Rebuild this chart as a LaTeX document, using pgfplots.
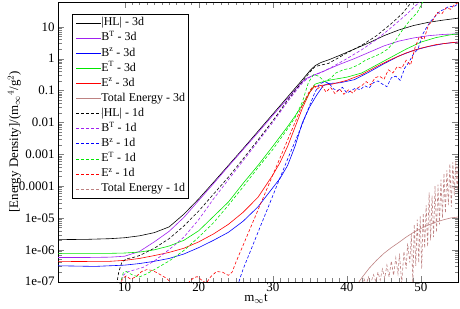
\documentclass[border=0pt]{standalone}
\usepackage{fontspec}
\setmainfont{Liberation Serif}
\usepackage{pgfplots}
\pgfplotsset{compat=1.18}
\definecolor{cPurple}{RGB}{160,32,240}
\definecolor{cGreen}{RGB}{0,230,0}
\definecolor{cBrown}{RGB}{190,130,130}
\begin{document}
\begin{tikzpicture}
\begin{axis}[
  at={(0,0)}, anchor=south west,
  scale only axis, width=400bp, height=279.7bp,
  xmin=1, xmax=55, ymin=1e-7, ymax=60, ymode=log,
  xtick={10,20,30,40,50}, minor x tick num=9,
  ytick={1e-7,1e-6,1e-5,1e-4,1e-3,1e-2,0.1,1,10},
  yticklabels={1e-07,1e-06,1e-05,0.0001,0.001,0.01,0.1,1,10},
  tick label style={font=\fontsize{13}{13}\selectfont},
  xticklabel style={inner sep=1pt},
  /pgf/number format/assume math mode=true,
  xlabel={m$_\infty$t},
  ylabel={[Energy Density]/(m$_\infty{}^4$/g$^2$)},
  label style={font=\fontsize{13}{13}\selectfont},
  xlabel style={at={(axis description cs:0.495,-0.072)}, anchor=base, inner sep=0pt},
  ylabel style={at={(axis description cs:-0.109,0.5)}, anchor=center},
  major tick length=6bp, minor tick length=3.5bp,
  every axis plot/.append style={line width=0.6pt},
  legend cell align=left,
  legend image code/.code={\draw[#1] (0bp,0bp) -- (25bp,0bp);},
  legend style={at={(rel axis cs:0.035,0.958)}, anchor=north west, draw=black, line width=0.6pt,
    font=\fontsize{12}{12}\selectfont, row sep=4.3bp, inner sep=3.5pt,
    nodes={inner sep=0pt, text height=8.3bp, text depth=2.5bp}},
]
% |HL| - 3d
\addplot[black] coordinates {
(1,2.089e-6)(5,2.138e-6)(8,2.239e-6)(10,2.399e-6)(12,2.754e-6)(14,3.467e-6)(16,5.248e-6)
(18,1.318e-5)(20,3.981e-5)(22,1.318e-4)(24,4.467e-4)(26,1.514e-3)(28,5.248e-3)(30,1.820e-2)
(32,6.310e-2)(33,0.1175)(34,0.2188)(35,0.4169)(35.7,0.6026)(36.5,0.7586)(37.5,0.912)
(39,1.259)(41,1.995)(43,3.162)(45,5.248)(47,7.943)(49,10.96)(51,13.80)(53,16.22)(55,18.62)};
\addlegendentry{|HL| - 3d}
% B^T - 3d
\addplot[cPurple] coordinates {
(1,5.754e-7)(5,5.754e-7)(8,5.888e-7)(10,6.310e-7)(12,8.913e-7)(14,1.778e-6)(16,3.802e-6)
(18,1.047e-5)(20,3.548e-5)(22,1.202e-4)(24,4.169e-4)(26,1.413e-3)(28,4.786e-3)(30,1.660e-2)
(32,5.623e-2)(33,0.1047)(34,0.1905)(34.7,0.2512)(35.5,0.3020)(37,0.4169)(39,0.6607)
(41,1.0)(43,1.585)(45,2.512)(47,3.548)(49,4.467)(51,5.248)(53,5.754)(55,6.026)};
\addlegendentry{B\textsuperscript{T} - 3d}
% B^z - 3d
\addplot[blue] coordinates {
(1,3.162e-7)(6,3.020e-7)(10,3.311e-7)(12,3.715e-7)(14,4.365e-7)(16,5.370e-7)(18,7.413e-7)
(20,1.175e-6)(22,1.995e-6)(24,3.548e-6)(26,7.943e-6)(28,2.239e-5)(30,8.913e-5)(31,1.778e-4)
(32,4.467e-4)(33,1.778e-3)(34,1e-2)(35,3.162e-2)(35.9,7.079e-2)(36.8,0.1413)(37.5,0.1660)
(39,0.1738)(41,0.2188)(43,0.3802)(45,0.6918)(47,1.202)(49,1.820)(51,2.399)(53,2.951)(55,3.311)};
\addlegendentry{B\textsuperscript{z} - 3d}
% E^T - 3d
\addplot[cGreen] coordinates {
(1,7.762e-7)(8,7.762e-7)(10,7.943e-7)(12,8.511e-7)(14,1.0e-6)(16,1.318e-6)(18,1.995e-6)
(20,3.981e-6)(22,1.122e-5)(24,3.162e-5)(26,1.230e-4)(28,4.467e-4)(30,1.778e-3)(32,7.413e-3)
(33,1.585e-2)(34,3.548e-2)(35,8.913e-2)(35.7,0.1585)(36.5,0.1820)(38,0.2188)(40,0.2630)
(42,0.3548)(44,0.6310)(46,1.122)(48,1.995)(50,3.311)(52,4.571)(54,5.623)(55,6.026)};
\addlegendentry{E\textsuperscript{T} - 3d}
% E^z - 3d
\addplot[red] coordinates {
(1,4.266e-7)(8,4.365e-7)(10,4.677e-7)(12,5.370e-7)(14,6.607e-7)(16,8.318e-7)(18,1.122e-6)
(20,1.778e-6)(22,3.162e-6)(24,6.310e-6)(26,1.514e-5)(28,4.467e-5)(30,2.239e-4)(31,5.623e-4)
(32,1.778e-3)(33,7.079e-3)(34,2.818e-2)(35,8.913e-2)(35.6,0.1318)(36.5,0.1445)(38,0.1585)
(40,0.2089)(42,0.3162)(44,0.5623)(46,0.9550)(48,1.514)(50,2.138)(52,2.754)(54,3.162)(55,3.311)};
\addlegendentry{E\textsuperscript{z} - 3d}
% Total Energy - 3d
\addplot[cBrown] coordinates {
(41.5,8.913e-8)(42,1.318e-7)(43,2.630e-7)(44,4.677e-7)(45,7.762e-7)(46,1.175e-6)(47,1.698e-6)
(48,2.512e-6)(49,3.548e-6)(50,4.677e-6)(51,6.026e-6)(52,7.413e-6)(53,8.710e-6)(54,1e-5)(55,1.072e-5)};
\addlegendentry{Total Energy - 3d}
% |HL| - 1d
\addplot[black, dash pattern=on 3bp off 2bp] coordinates {
(8.9,7.943e-8)(9.2,1.995e-7)(9.6,3.981e-7)(10.2,5.248e-7)(11,5.623e-7)(12,6.607e-7)(14,1.122e-6)
(16,2.239e-6)(18,5.623e-6)(20,1.660e-5)(22,5.623e-5)(24,1.905e-4)(26,7.244e-4)(28,2.818e-3)
(30,1.122e-2)(32,5.012e-2)(33,0.1)(34,0.1905)(35,0.3802)(35.7,0.5623)(36.5,0.6310)(37.5,0.7079)
(38.5,0.9550)(40,1.514)(42,2.630)(44,5.248)(46,12.59)(47.5,26.30)(48.8,63.10)};
\addlegendentry{|HL| - 1d}
% B^T - 1d
\addplot[cPurple, dash pattern=on 3bp off 2bp] coordinates {
(9.3,7.943e-8)(9.8,1.585e-7)(10.3,1.995e-7)(11,2.239e-7)(12.5,2.818e-7)(14,4.467e-7)(15.3,7.586e-7)
(17,1.585e-6)(18,2.512e-6)(20,8.913e-6)(22,3.981e-5)(24,1.585e-4)(26,6.310e-4)(28,2.512e-3)
(30,1e-2)(32,4.467e-2)(33,8.913e-2)(34,0.1738)(34.7,0.2399)(35.5,0.3020)(36.5,0.3631)(38,0.5495)
(40,1.0)(42,1.905)(44,3.981)(46,9.550)(48,23.99)(49.9,63.10)};
\addlegendentry{B\textsuperscript{T} - 1d}
% B^z - 1d
\addplot[blue, dash pattern=on 3bp off 2bp] coordinates {
(25.2,7.079e-8)(26,2.512e-7)(28,3.548e-6)(30,5.012e-5)(32,7.079e-4)(33,2.512e-3)(34,8.913e-3)
(35,3.548e-2)(35.7,8.913e-2)(36.3,0.1585)(37,0.1905)(37.6,0.1660)(38.2,0.1122)(38.8,0.1)
(39.4,0.1259)(40,8.318e-2)(40.6,0.1)(41.2,0.1202)(41.8,0.1047)(42.4,0.1413)(43,0.1202)
(43.6,0.1778)(44.2,0.1995)(44.8,0.1585)(45.4,0.1318)(46,0.2512)(46.6,0.2818)(47.2,0.2089)
(47.8,0.5012)(48.4,0.7943)(49,1.413)(49.6,1.995)(50.2,5.623)(50.8,10)(51.4,15.85)(52,22.39)
(52.6,31.62)(53.2,35.48)(53.8,44.67)(54.4,41.69)(55,52.48)};
\addlegendentry{B\textsuperscript{z} - 1d}
% E^T - 1d
\addplot[cGreen, dash pattern=on 3bp off 2bp] coordinates {
(9.4,7.943e-8)(9.8,1.905e-7)(10.2,2.089e-7)(11,1.660e-7)(11.9,1.380e-7)(13,1.778e-7)(14,2.399e-7)
(16,4.467e-7)(18,9.550e-7)(20,2.512e-6)(22,7.079e-6)(24,2.512e-5)(26,9.550e-5)(28,3.802e-4)
(30,1.413e-3)(32,6.310e-3)(33,1.413e-2)(34,4.467e-2)(34.8,0.1778)(35.5,0.3162)(36.2,0.2818)
(37,0.1905)(37.8,0.2399)(38.5,0.3548)(39.5,0.4467)(40.5,0.5012)(41.5,0.6310)(42.5,0.8913)
(43.5,1.122)(44.5,1.413)(45.5,1.995)(46.5,3.548)(47.5,7.943)(48.5,15.85)(49.5,28.18)(50.3,63.10)};
\addlegendentry{E\textsuperscript{T} - 1d}
% E^z - 1d
\addplot[red, dash pattern=on 3bp off 2bp] coordinates {
(9.2,5.012e-8)(9.7,1.259e-7)(10.2,1.514e-7)(10.8,1.202e-7)(11.5,1.413e-7)(12.3,2.089e-7)(13,2.399e-7)
(13.8,2.239e-7)(14.6,1.778e-7)(15.7,1.259e-7)(16.5,7.943e-8)(17.5,6.310e-8)(18.5,8.913e-8)
(19.3,1.318e-7)(19.8,1.445e-7)(20.4,1.122e-7)(21,8.913e-8)(21.6,1.413e-7)(22.4,2.089e-7)
(23.2,1.995e-7)(24,1.585e-7)(24.5,1.995e-7)(25,3.981e-7)(26,1.413e-6)(27,5.012e-6)(28,1.778e-5)
(29,6.310e-5)(30,2.239e-4)(31,7.943e-4)(32,2.818e-3)(33,1e-2)(34,3.548e-2)(35,0.1)(35.5,0.1413)
(36,0.1122)(36.6,0.1413)(37.2,8.913e-2)(37.8,0.1259)(38.4,7.943e-2)(39,0.1122)(39.6,7.586e-2)
(40.2,0.1047)(40.8,8.318e-2)(41.4,0.1202)(42,0.1413)(42.6,0.1905)(43.2,0.1514)(43.8,0.2512)
(44.4,0.2818)(45,0.2239)(45.6,0.4467)(46.2,0.3548)(46.8,0.5623)(47.4,0.5012)(48,0.8913)
(48.6,0.6310)(49.2,2.239)(49.8,5.012)(50.4,3.981)(51,11.22)(51.6,15.85)(52.2,28.18)(52.8,25.12)
(53.4,39.81)(54,35.48)(54.6,52.48)(55,56.23)};
\addlegendentry{E\textsuperscript{z} - 1d}
% Total Energy - 1d
\addplot[cBrown, dash pattern=on 3bp off 2bp] coordinates {
(41.9,6.310e-8)(42.3,1.259e-7)(42.6,7.943e-8)(42.9,1.413e-7)(43.2,8.913e-8)(43.6,1.660e-7)
(43.9,1e-7)(44.2,1.995e-7)(44.5,1.122e-7)(44.8,2.512e-7)(45.1,1.259e-7)(45.4,3.311e-7)
(45.7,1.413e-7)(46.0,4.467e-7)(46.3,1.585e-7)(46.6,5.623e-7)(46.9,1.778e-7)(47.1,7.586e-7)
(47.4,8.913e-8)(47.7,8.913e-7)(48.0,2.512e-7)(48.2,1.585e-6)(48.5,3.981e-7)(48.7,3.162e-6)
(48.9,8.913e-8)(49.1,6.310e-6)(49.3,3.162e-7)(49.5,8.913e-6)(49.7,3.981e-7)(49.9,1.122e-5)
(50.1,2.512e-7)(50.3,1.413e-5)(50.5,1.122e-6)(50.7,2.512e-5)(50.9,1.259e-6)(51.1,6.310e-5)
(51.3,1.995e-6)(51.5,5.012e-5)(51.7,2.512e-6)(51.9,1e-4)(52.1,3.548e-6)(52.3,1.122e-4)
(52.5,6.310e-6)(52.7,1.585e-4)(52.9,1e-5)(53.1,2.512e-4)(53.3,1.413e-5)(53.5,3.162e-4)
(53.7,2.512e-5)(53.9,5.012e-4)(54.1,2.239e-5)(54.3,5.623e-4)(54.5,5.012e-5)(54.7,6.310e-4)
(54.9,6.310e-5)(55,5.012e-4)};
\addlegendentry{Total Energy - 1d}
\end{axis}
\pgfresetboundingbox
\path[use as bounding box] (-58bp,-27.3bp) rectangle (402bp,281.7bp);
\end{tikzpicture}
\end{document}
